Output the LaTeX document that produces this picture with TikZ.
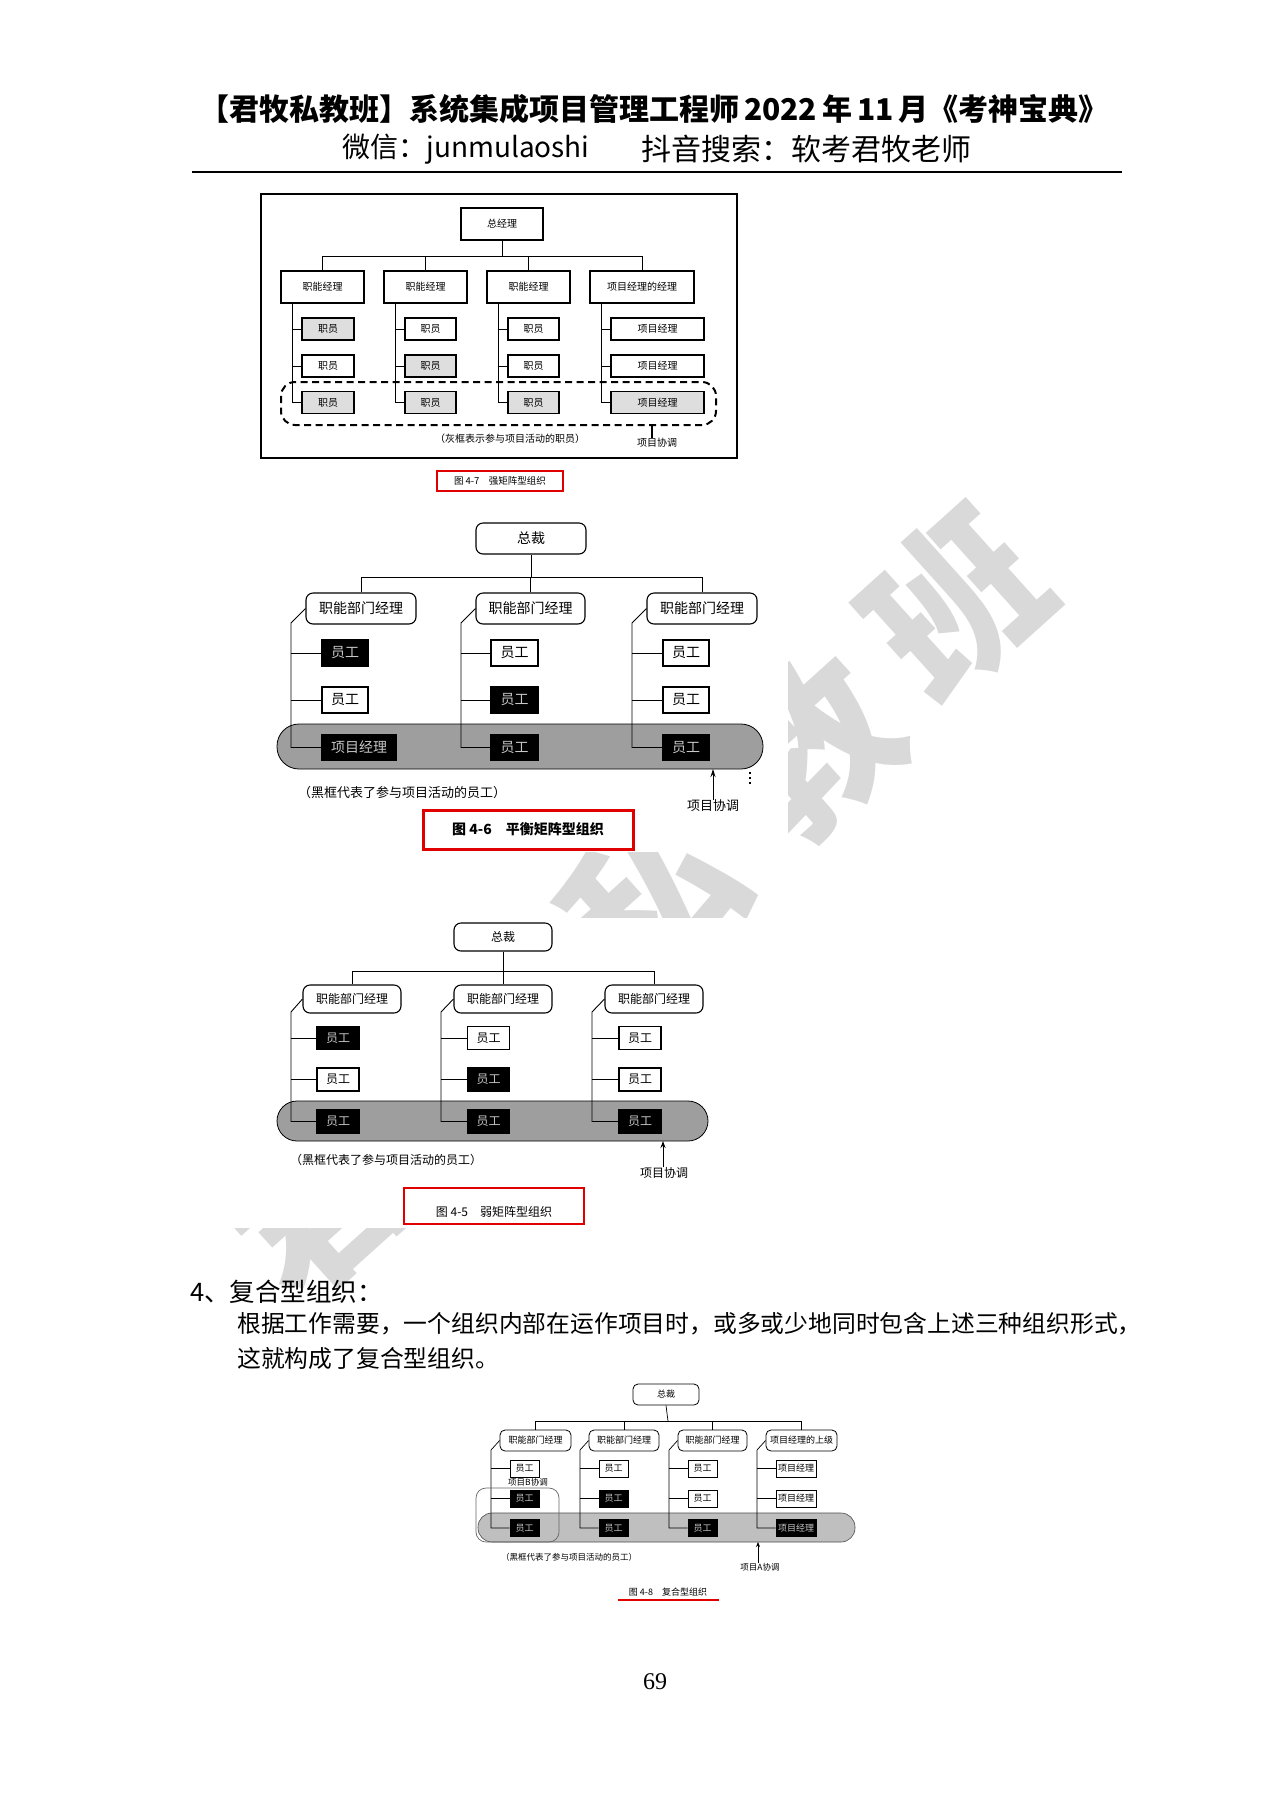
\documentclass[tikz,border=0pt]{standalone}
\usepackage{fontspec}
\setmainfont{Noto Sans CJK SC}
\newfontfamily\numfont{Liberation Serif}
\usetikzlibrary{arrows.meta,calc}
\newcommand\myfs[1]{\fontsize{#1}{#1}\selectfont}
\begin{document}
\begin{tikzpicture}[x=1pt,y=-1pt,
  sq/.style={draw, line width=1.1pt, inner sep=0pt, fill=white},
  rb/.style={draw, line width=1.1pt, inner sep=0pt, rounded corners=7pt, fill=white},
  ln/.style={line width=0.9pt},
  blk/.style={fill=black, text=black!22},
  shd/.style={fill=black!13},
  redbox/.style={draw=red!88!black, line width=2.5pt, inner sep=0pt},
  wm/.style={text=black!15, font=\myfs{170}\bfseries, rotate=42, inner sep=0pt},
  plain/.style={inner sep=0pt}]
\useasboundingbox (0,0) rectangle (1273,1800);
\fill[white] (0,0) rectangle (1273,1800);

% ---------- watermark ----------
\node[wm] (w1) at (318,1205) {君};
\node[wm] (w2) at (483,1050) {牧};
\node[wm] (w3) at (652,900) {私};
\node[wm] (w4) at (810,748) {教};
\node[wm] (w5) at (955,603) {班};

% ---------- header ----------
\node[plain, font=\myfs{30}\bfseries] (h1) at (654,109) {【君牧私教班】系统集成项目管理工程师\,2022\,年\,11\,月《考神宝典》};
\node[plain, font=\myfs{28}] (h2) at (466,149) {微信：junmulaoshi};
\node[plain, font=\myfs{30}] (h3) at (806,149) {抖音搜索：软考君牧老师};
\draw[line width=2pt] (192,172) -- (1122,172);

% ---------- Fig 4-7 ----------
\begin{scope}[every node/.append style={font=\myfs{10}}]
\fill[white] (255,188) rectangle (742,500);
\draw[line width=1.4pt] (261,194) rectangle (737,458);
\node[sq, minimum width=82pt, minimum height=32pt] (gm) at (502,224) {总经理};
\node[sq, minimum width=83pt, minimum height=32pt] (f71) at (322.5,287) {职能经理};
\node[sq, minimum width=83pt, minimum height=32pt] (f72) at (425.5,287) {职能经理};
\node[sq, minimum width=83pt, minimum height=32pt] (f73) at (528.5,287) {职能经理};
\node[sq, minimum width=104pt, minimum height=32pt] (f74) at (642,287) {项目经理的经理};
\coordinate (b7) at (502,256);
\draw[ln] (gm.south) -- (b7);
\draw[ln] (f71.north) -- (f71.north |- b7) -- (f74.north |- b7) -- (f74.north);
\draw[ln] (f72.north) -- (f72.north |- b7);
\draw[ln] (f73.north) -- (f73.north |- b7);
% children
\node[sq, shd, minimum width=52pt, minimum height=22pt] (c711) at (328,329) {职员};
\node[sq, minimum width=52pt, minimum height=22pt] (c712) at (328,366) {职员};
\node[sq, shd, minimum width=52pt, minimum height=22pt] (c713) at (328,402.5) {职员};
\node[sq, minimum width=51pt, minimum height=22pt] (c721) at (430.5,329) {职员};
\node[sq, shd, minimum width=51pt, minimum height=22pt] (c722) at (430.5,366) {职员};
\node[sq, shd, minimum width=51pt, minimum height=22pt] (c723) at (430.5,402.5) {职员};
\node[sq, minimum width=51pt, minimum height=22pt] (c731) at (533.5,329) {职员};
\node[sq, minimum width=51pt, minimum height=22pt] (c732) at (533.5,366) {职员};
\node[sq, shd, minimum width=51pt, minimum height=22pt] (c733) at (533.5,402.5) {职员};
\node[sq, minimum width=93pt, minimum height=22pt] (c741) at (657.5,329) {项目经理};
\node[sq, minimum width=93pt, minimum height=22pt] (c742) at (657.5,366) {项目经理};
\node[sq, shd, minimum width=93pt, minimum height=22pt] (c743) at (657.5,402.5) {项目经理};
\foreach \c/\sx in {1/292,2/395,3/498,4/601} {
  \coordinate (s7\c) at (\sx,303);
  \draw[ln] (s7\c) |- (c7\c3.west);
  \draw[ln] (c7\c1.west -| s7\c) -- (c7\c1.west);
  \draw[ln] (c7\c2.west -| s7\c) -- (c7\c2.west);
}
\draw[line width=2pt, dash pattern=on 7pt off 4.5pt, rounded corners=14pt] (281,382) rectangle (716,425);
\node[plain] (n7) at (510,439) {（灰框表示参与项目活动的职员）};
\node[plain] (pc7) at (657,443) {项目协调};
\coordinate (t7) at (652,425);
\draw[line width=1.5pt] (t7) -- (t7 |- pc7.north);
\node[redbox, minimum width=126pt, minimum height=20pt, font=\myfs{9.5}] (cap7) at (500,481) {图 4-7\quad 强矩阵型组织};
\end{scope}

% ---------- Fig 4-6 ----------
\begin{scope}[every node/.append style={font=\myfs{14}}]
\fill[white] (262,502) rectangle (788,852);
\node[rb, minimum width=110pt, minimum height=31pt] (p6) at (531,538.5) {总裁};
\node[rb, minimum width=110pt, minimum height=31pt] (f61) at (361,608.5) {职能部门经理};
\node[rb, minimum width=109pt, minimum height=31pt] (f62) at (530.5,608.5) {职能部门经理};
\node[rb, minimum width=110pt, minimum height=31pt] (f63) at (702,608.5) {职能部门经理};
\coordinate (b6) at (531,577);
\draw[ln] (p6.south) -- (b6);
\draw[ln] (f61.north) -- (f61.north |- b6) -- (f63.north |- b6) -- (f63.north);
\draw[ln] (f62.north) -- (f62.north |- b6);
\draw[fill=black!38, line width=0.8pt, rounded corners=22pt] (277,724) rectangle (763,769);
\node[sq, blk, minimum width=46pt, minimum height=26pt] (c611) at (345,653) {员工};
\node[sq, minimum width=46pt, minimum height=26pt] (c612) at (345,700) {员工};
\node[sq, blk, minimum width=74pt, minimum height=26pt] (c613) at (359,747.5) {项目经理};
\node[sq, minimum width=47pt, minimum height=26pt] (c621) at (514.5,653) {员工};
\node[sq, blk, minimum width=47pt, minimum height=26pt] (c622) at (514.5,700) {员工};
\node[sq, blk, minimum width=47pt, minimum height=26pt] (c623) at (514.5,747.5) {员工};
\node[sq, minimum width=46pt, minimum height=26pt] (c631) at (686,653) {员工};
\node[sq, minimum width=46pt, minimum height=26pt] (c632) at (686,700) {员工};
\node[sq, blk, minimum width=46pt, minimum height=26pt] (c633) at (686,747.5) {员工};
\foreach \c/\sx in {1/291,2/461,3/632} {
  \coordinate (k6\c) at (\sx,623);
  \draw[ln] (f6\c.west) -- (k6\c) |- (c6\c3.west);
  \draw[ln] (c6\c1.west -| k6\c) -- (c6\c1.west);
  \draw[ln] (c6\c2.west -| k6\c) -- (c6\c2.west);
}
\node[plain, font=\myfs{13}] (n6) at (402,793) {（黑框代表了参与项目活动的员工）};
\node[plain, font=\myfs{13}] (pc6) at (713,806) {项目协调};
\coordinate (a6) at (713,769);
\draw[line width=1pt, -{Stealth[length=8pt,width=5pt]}] (pc6.north) -- (a6);
\coordinate (d6a) at (750,772);
\coordinate (d6b) at (750,785);
\draw[line width=1.3pt, dash pattern=on 2pt off 3pt] (d6a) -- (d6b);
\node[redbox, line width=3pt, minimum width=210pt, minimum height=39pt, font=\myfs{14}\bfseries] (cap6) at (528,829.5) {图 4-6\quad 平衡矩阵型组织};
\end{scope}

% ---------- Fig 4-5 ----------
\begin{scope}[every node/.append style={font=\myfs{12}}]
\fill[white] (222,918) rectangle (770,1228);
\node[rb, minimum width=98pt, minimum height=28pt] (p5) at (503,937) {总裁};
\node[rb, minimum width=98pt, minimum height=28pt] (f51) at (352,999) {职能部门经理};
\node[rb, minimum width=98pt, minimum height=28pt] (f52) at (503,999) {职能部门经理};
\node[rb, minimum width=98pt, minimum height=28pt] (f53) at (654,999) {职能部门经理};
\coordinate (b5) at (503,971);
\draw[ln] (p5.south) -- (b5);
\draw[ln] (f51.north) -- (f51.north |- b5) -- (f53.north |- b5) -- (f53.north);
\draw[ln] (f52.north) -- (f52.north |- b5);
\draw[fill=black!38, line width=0.8pt, rounded corners=20pt] (277,1101) rectangle (708,1141);
\node[sq, blk, minimum width=42pt, minimum height=23pt] (c511) at (338,1038) {员工};
\node[sq, minimum width=42pt, minimum height=23pt] (c512) at (338,1079.5) {员工};
\node[sq, blk, minimum width=42pt, minimum height=23pt] (c513) at (338,1121.5) {员工};
\node[sq, minimum width=42pt, minimum height=23pt] (c521) at (488.5,1038) {员工};
\node[sq, blk, minimum width=42pt, minimum height=23pt] (c522) at (488.5,1079.5) {员工};
\node[sq, blk, minimum width=42pt, minimum height=23pt] (c523) at (488.5,1121.5) {员工};
\node[sq, minimum width=42pt, minimum height=23pt] (c531) at (640,1038) {员工};
\node[sq, minimum width=42pt, minimum height=23pt] (c532) at (640,1079.5) {员工};
\node[sq, blk, minimum width=42pt, minimum height=23pt] (c533) at (640,1121.5) {员工};
\foreach \c/\sx in {1/291,2/441,3/592} {
  \coordinate (k5\c) at (\sx,1012);
  \draw[ln] (f5\c.west) -- (k5\c) |- (c5\c3.west);
  \draw[ln] (c5\c1.west -| k5\c) -- (c5\c1.west);
  \draw[ln] (c5\c2.west -| k5\c) -- (c5\c2.west);
}
\node[plain] (n5) at (386,1160) {（黑框代表了参与项目活动的员工）};
\node[plain] (pc5) at (664,1173) {项目协调};
\coordinate (a5) at (663,1141);
\draw[line width=1pt, -{Stealth[length=7pt,width=5pt]}] (pc5.north -| a5) -- (a5);
\draw[redbox] (404,1188) rectangle (584,1224);
\node[plain] (cap5) at (494,1212) {图 4-5\quad 弱矩阵型组织};
\end{scope}

% ---------- text ----------
\node[plain, anchor=west, font=\myfs{25.5}] (t1) at (190,1292) {4、复合型组织：};
\node[plain, anchor=west, font=\myfs{23.8}] (t2) at (237,1324) {根据工作需要，一个组织内部在运作项目时，或多或少地同时包含上述三种组织形式，};
\node[plain, anchor=west, font=\myfs{23.8}] (t3) at (237,1358) {这就构成了复合型组织。};

% ---------- Fig 4-8 ----------
\begin{scope}[every node/.append style={font=\myfs{9}}, rb/.append style={rounded corners=5pt, line width=0.8pt}, sq/.append style={line width=0.8pt}, ln/.style={line width=0.7pt}]
\node[rb, minimum width=66pt, minimum height=21pt] (p8) at (666,1394.5) {总裁};
\node[rb, minimum width=71pt, minimum height=21pt] (f81) at (535.5,1440.5) {职能部门经理};
\node[rb, minimum width=70pt, minimum height=21pt] (f82) at (624,1440.5) {职能部门经理};
\node[rb, minimum width=69pt, minimum height=21pt] (f83) at (712.5,1440.5) {职能部门经理};
\node[rb, minimum width=71pt, minimum height=21pt] (f84) at (801.5,1440.5) {项目经理的上级};
\coordinate (b8) at (668,1421);
\draw[ln] (p8.south) -- (b8);
\draw[ln] (f81.north) -- (f81.north |- b8) -- (f84.north |- b8) -- (f84.north);
\draw[ln] (f82.north) -- (f82.north |- b8);
\draw[ln] (f83.north) -- (f83.north |- b8);
\draw[fill=black!25, draw=black!70, line width=0.6pt, rounded corners=14pt] (478,1513) rectangle (855,1542);
\node[sq, minimum width=29pt, minimum height=17pt] (c811) at (524.5,1468.5) {员工};
\node[sq, blk, minimum width=29pt, minimum height=17pt] (c812) at (524.5,1498.5) {员工};
\node[sq, blk, minimum width=29pt, minimum height=17pt] (c813) at (524.5,1528) {员工};
\node[sq, minimum width=29pt, minimum height=17pt] (c821) at (613.5,1468.5) {员工};
\node[sq, blk, minimum width=29pt, minimum height=17pt] (c822) at (613.5,1498.5) {员工};
\node[sq, blk, minimum width=29pt, minimum height=17pt] (c823) at (613.5,1528) {员工};
\node[sq, minimum width=29pt, minimum height=17pt] (c831) at (702.5,1468.5) {员工};
\node[sq, minimum width=29pt, minimum height=17pt] (c832) at (702.5,1498.5) {员工};
\node[sq, blk, minimum width=29pt, minimum height=17pt] (c833) at (702.5,1528) {员工};
\node[sq, minimum width=40pt, minimum height=17pt] (c841) at (796,1468.5) {项目经理};
\node[sq, minimum width=40pt, minimum height=17pt] (c842) at (796,1498.5) {项目经理};
\node[sq, blk, minimum width=40pt, minimum height=17pt] (c843) at (796,1528) {项目经理};
\foreach \c/\sx in {1/491,2/580,3/669,4/757} {
  \coordinate (k8\c) at (\sx,1450);
  \draw[ln] (f8\c.west) -- (k8\c) |- (c8\c3.west);
  \draw[ln] (c8\c1.west -| k8\c) -- (c8\c1.west);
  \draw[ln] (c8\c2.west -| k8\c) -- (c8\c2.west);
}
\draw[draw=black!60, line width=0.7pt, rounded corners=10pt] (476,1488) rectangle (559,1542);
\node[plain, font=\myfs{8.5}] (pb8) at (528,1482) {项目B协调};
\node[plain, font=\myfs{8.5}] (n8) at (569,1557) {（黑框代表了参与项目活动的员工）};
\node[plain, font=\myfs{8.5}] (pa8) at (760,1567) {项目A协调};
\coordinate (a8) at (758,1542);
\draw[line width=0.8pt, -{Stealth[length=5pt,width=4pt]}] (pa8.north -| a8) -- (a8);
\node[plain, font=\myfs{9}] (cap8) at (668,1592) {图 4-8\quad 复合型组织};
\draw[red!88!black, line width=2pt] (618,1600) -- (719,1600);
\end{scope}

\node[plain, font=\numfont\myfs{24}] (pg) at (655,1682) {69};
\end{tikzpicture}
\end{document}
